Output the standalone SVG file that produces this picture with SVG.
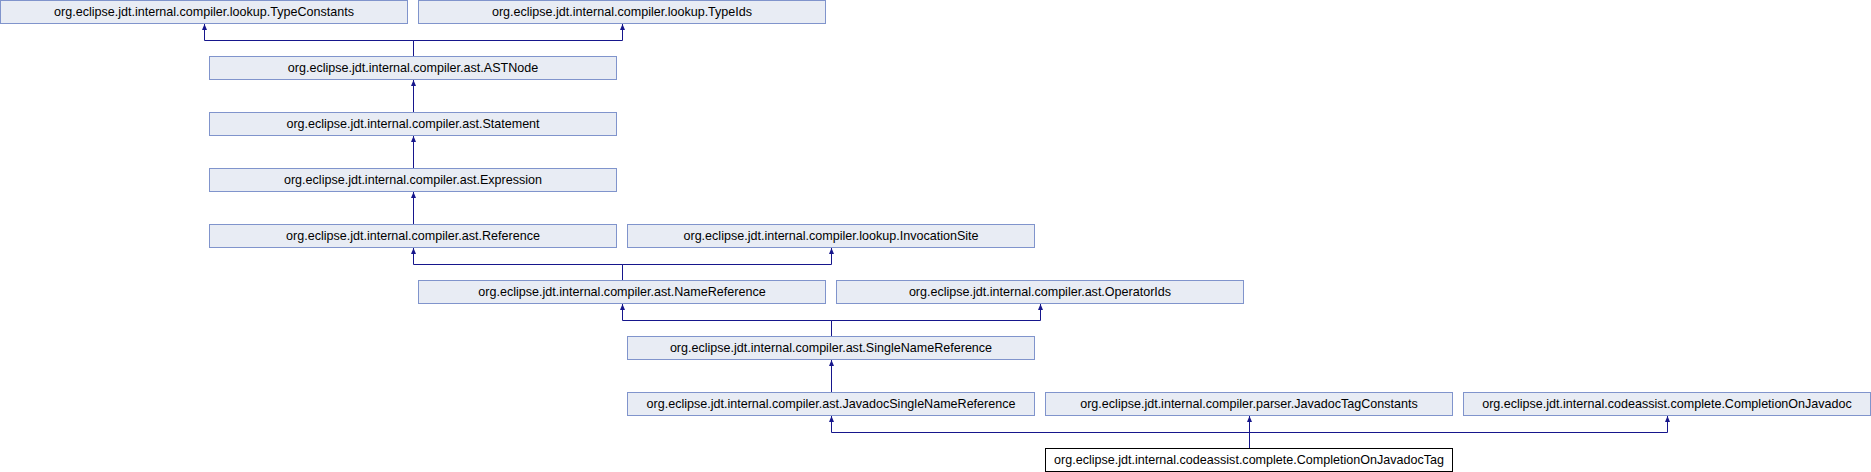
<svg xmlns="http://www.w3.org/2000/svg" width="1871" height="472" viewBox="0 0 1871 472">
<style>
.n rect{fill:#e8ecf4;stroke:#8094cc;stroke-width:1}
.n.cur rect{fill:#ffffff;stroke:#000000}
.n text{font-family:"Liberation Sans",Arial,sans-serif;font-size:12.55px;fill:#000;text-anchor:middle}
.e path{fill:none;stroke:#16168c;stroke-width:1;marker-end:url(#arr)}
</style>
<defs>
<marker id="arr" viewBox="0 0 6 5" refX="6" refY="2.5" markerWidth="6" markerHeight="5" orient="auto" markerUnits="userSpaceOnUse"><path d="M0,0 L6,2.5 L0,5 z" fill="#16168c" stroke="none"/></marker>
</defs>
<rect width="1871" height="472" fill="#ffffff"/>
<g id="edges" class="e">
<path d="M413.5,56 V40.5 H204.5 V24"/>
<path d="M413.5,56 V40.5 H622.5 V24"/>
<path d="M413.5,112 V80"/>
<path d="M413.5,168 V136"/>
<path d="M413.5,224 V192"/>
<path d="M622.5,280 V264.5 H413.5 V248"/>
<path d="M622.5,280 V264.5 H831.5 V248"/>
<path d="M831.5,336 V320.5 H622.5 V304"/>
<path d="M831.5,336 V320.5 H1040.5 V304"/>
<path d="M831.5,392 V360"/>
<path d="M1249.5,448 V432.5 H831.5 V416"/>
<path d="M1249.5,448 V416"/>
<path d="M1249.5,448 V432.5 H1667.5 V416"/>
</g>
<g id="TypeConstants" class="n"><rect x="0.5" y="0.5" width="407" height="23"/><text x="204" y="16">org.eclipse.jdt.internal.compiler.lookup.TypeConstants</text></g>
<g id="TypeIds" class="n"><rect x="418.5" y="0.5" width="407" height="23"/><text x="622" y="16">org.eclipse.jdt.internal.compiler.lookup.TypeIds</text></g>
<g id="ASTNode" class="n"><rect x="209.5" y="56.5" width="407" height="23"/><text x="413" y="72">org.eclipse.jdt.internal.compiler.ast.ASTNode</text></g>
<g id="Statement" class="n"><rect x="209.5" y="112.5" width="407" height="23"/><text x="413" y="128">org.eclipse.jdt.internal.compiler.ast.Statement</text></g>
<g id="Expression" class="n"><rect x="209.5" y="168.5" width="407" height="23"/><text x="413" y="184">org.eclipse.jdt.internal.compiler.ast.Expression</text></g>
<g id="Reference" class="n"><rect x="209.5" y="224.5" width="407" height="23"/><text x="413" y="240">org.eclipse.jdt.internal.compiler.ast.Reference</text></g>
<g id="InvocationSite" class="n"><rect x="627.5" y="224.5" width="407" height="23"/><text x="831" y="240">org.eclipse.jdt.internal.compiler.lookup.InvocationSite</text></g>
<g id="NameReference" class="n"><rect x="418.5" y="280.5" width="407" height="23"/><text x="622" y="296">org.eclipse.jdt.internal.compiler.ast.NameReference</text></g>
<g id="OperatorIds" class="n"><rect x="836.5" y="280.5" width="407" height="23"/><text x="1040" y="296">org.eclipse.jdt.internal.compiler.ast.OperatorIds</text></g>
<g id="SingleNameReference" class="n"><rect x="627.5" y="336.5" width="407" height="23"/><text x="831" y="352">org.eclipse.jdt.internal.compiler.ast.SingleNameReference</text></g>
<g id="JavadocSingleNameReference" class="n"><rect x="627.5" y="392.5" width="407" height="23"/><text x="831" y="408">org.eclipse.jdt.internal.compiler.ast.JavadocSingleNameReference</text></g>
<g id="JavadocTagConstants" class="n"><rect x="1045.5" y="392.5" width="407" height="23"/><text x="1249" y="408">org.eclipse.jdt.internal.compiler.parser.JavadocTagConstants</text></g>
<g id="CompletionOnJavadoc" class="n"><rect x="1463.5" y="392.5" width="407" height="23"/><text x="1667" y="408">org.eclipse.jdt.internal.codeassist.complete.CompletionOnJavadoc</text></g>
<g id="CompletionOnJavadocTag" class="n cur"><rect x="1045.5" y="448.5" width="407" height="23"/><text x="1249" y="464">org.eclipse.jdt.internal.codeassist.complete.CompletionOnJavadocTag</text></g>
</svg>
